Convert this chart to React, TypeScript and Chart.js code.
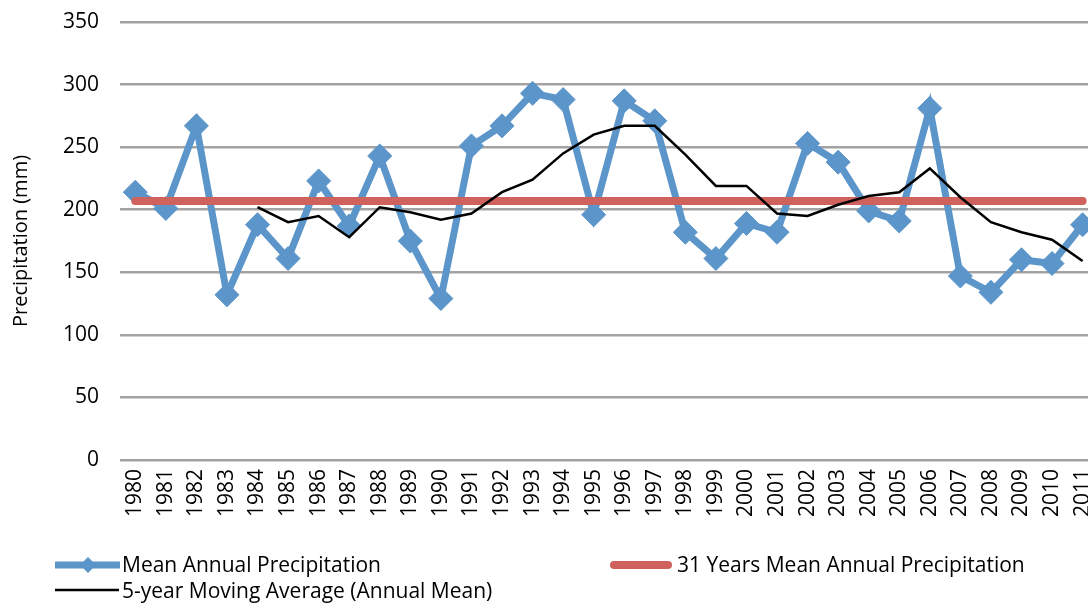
import React, { useEffect, useRef } from "react";
import { Chart, registerables } from "chart.js";

Chart.register(...registerables);

const years = [
  "1980", "1981", "1982", "1983", "1984", "1985", "1986", "1987", "1988", "1989",
  "1990", "1991", "1992", "1993", "1994", "1995", "1996", "1997", "1998", "1999",
  "2000", "2001", "2002", "2003", "2004", "2005", "2006", "2007", "2008", "2009",
  "2010", "2011",
];

const meanAnnual = [
  214, 201, 267, 132, 188, 161, 223, 187, 243, 175,
  129, 251, 267, 293, 288, 196, 287, 271, 182, 161,
  189, 182, 253, 238, 199, 191, 281, 147, 134, 160,
  157, 188,
];

const longTermMean = [
  207, 207, 207, 207, 207, 207, 207, 207, 207, 207,
  207, 207, 207, 207, 207, 207, 207, 207, 207, 207,
  207, 207, 207, 207, 207, 207, 207, 207, 207, 207,
  207, 207,
];

const movingAverage = [
  null, null, null, null, 202, 190, 195, 178, 202, 198,
  192, 197, 214, 224, 245, 260, 267, 267, 244, 219,
  219, 197, 195, 204, 211, 214, 233, 210, 190, 182,
  176, 159,
];

const yTicks = [0, 50, 100, 150, 200, 250, 300, 350];

const FONT = "'Open Sans', 'Noto Sans', sans-serif";
const BLUE = "#5b95ca";
const RED = "#d0625d";
const BLACK = "#000000";

const legendPlugin = {
  id: "customLegend",
  afterDraw(chart: any) {
    const ctx = chart.ctx;
    const ds = chart.data.datasets;
    ctx.save();
    ctx.font = `21px ${FONT}`;
    ctx.fillStyle = "#000";
    ctx.textBaseline = "middle";
    ctx.textAlign = "left";
    ctx.lineCap = "butt";

    // item 1
    ctx.strokeStyle = ds[0].borderColor;
    ctx.lineWidth = 7;
    ctx.beginPath();
    ctx.moveTo(55, 565);
    ctx.lineTo(120, 565);
    ctx.stroke();
    ctx.fillStyle = ds[0].borderColor;
    ctx.beginPath();
    ctx.moveTo(88 - 8, 565);
    ctx.lineTo(88, 565 - 8);
    ctx.lineTo(88 + 8, 565);
    ctx.lineTo(88, 565 + 8);
    ctx.closePath();
    ctx.fill();
    ctx.fillStyle = "#000";
    ctx.fillText(ds[0].label, 122, 566);

    // item 2
    ctx.strokeStyle = ds[1].borderColor;
    ctx.lineWidth = 8;
    ctx.lineCap = "round";
    ctx.beginPath();
    ctx.moveTo(614, 565);
    ctx.lineTo(668, 565);
    ctx.stroke();
    ctx.fillText(ds[1].label, 677, 566);

    // item 3
    ctx.strokeStyle = ds[2].borderColor;
    ctx.lineWidth = 2.5;
    ctx.lineCap = "butt";
    ctx.beginPath();
    ctx.moveTo(55, 590);
    ctx.lineTo(119, 590);
    ctx.stroke();
    ctx.fillText(ds[2].label, 122, 592);
    ctx.restore();
  },
};

export default function App() {
  const ref = useRef<HTMLCanvasElement | null>(null);

  useEffect(() => {
    if (!ref.current) return;
    const chart = new Chart(ref.current, {
      type: "line",
      data: {
        labels: years,
        datasets: [
          {
            label: "Mean Annual Precipitation",
            data: meanAnnual,
            borderColor: BLUE,
            backgroundColor: BLUE,
            borderWidth: 7,
            pointStyle: "rectRot",
            pointRadius: 12,
            pointBorderWidth: 1,
            pointBorderColor: BLUE,
            pointBackgroundColor: BLUE,
            tension: 0,
            order: 3,
          },
          {
            label: "31 Years Mean Annual Precipitation",
            data: longTermMean,
            borderColor: RED,
            backgroundColor: RED,
            borderWidth: 8,
            borderCapStyle: "round",
            pointRadius: 0,
            tension: 0,
            order: 2,
          },
          {
            label: "5-year Moving Average (Annual Mean)",
            data: movingAverage,
            borderColor: BLACK,
            backgroundColor: BLACK,
            borderWidth: 2.5,
            pointRadius: 0,
            tension: 0,
            spanGaps: false,
            order: 1,
          },
        ],
      },
      options: {
        animation: false,
        responsive: false,
        devicePixelRatio: 1,
        layout: { padding: { left: 0, right: 3, top: 22, bottom: 0 } },
        plugins: {
          legend: { display: false },
          tooltip: { enabled: false },
        },
        scales: {
          x: {
            type: "category",
            offset: true,
            grid: { display: false, drawTicks: false },
            border: { display: false },
            ticks: {
              autoSkip: false,
              minRotation: 90,
              maxRotation: 90,
              padding: 9,
              color: "#000",
              font: { family: FONT, size: 21 },
            },
            afterFit(scale: any) {
              scale.height = 146;
            },
          },
          y: {
            min: 0,
            max: 350,
            afterBuildTicks(scale: any) {
              scale.ticks = yTicks.map((v) => ({ value: v }));
            },
            grid: { color: "#a3a3a3", lineWidth: 2.5, drawTicks: false },
            border: { display: false },
            ticks: {
              padding: 21,
              color: "#000",
              font: { family: FONT, size: 21 },
            },
            title: {
              display: true,
              text: "Precipitation (mm)",
              color: "#000",
              font: { family: FONT, size: 20 },
              padding: { top: 9, bottom: 0 },
            },
            afterFit(scale: any) {
              scale.width = 120;
              scale.paddingTop = 0;
              scale.paddingBottom = 0;
            },
          },
        },
      },
      plugins: [legendPlugin],
    });
    return () => chart.destroy();
  }, []);

  return (
    <div
      style={{
        position: "fixed",
        left: 0,
        top: 0,
        width: 1088,
        height: 606,
        overflow: "hidden",
        background: "#fff",
      }}
    >
      <canvas ref={ref} width={1117} height={606} style={{ display: "block" }} />
    </div>
  );
}
